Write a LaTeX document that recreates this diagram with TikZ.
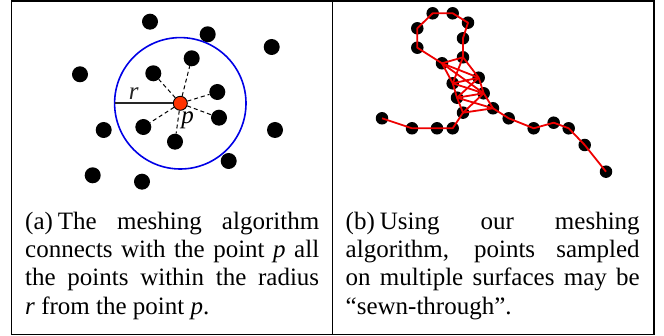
\documentclass[tikz,border=0pt]{standalone}
\usepackage{fontspec}
\setmainfont{Liberation Serif}
\usetikzlibrary{positioning}
\definecolor{pointred}{RGB}{255,51,0}
\definecolor{meshred}{RGB}{238,0,0}
\definecolor{ringblue}{RGB}{0,0,230}

\begin{document}
\begin{tikzpicture}[x=1pt,y=-1pt,
  dot/.style={circle,fill=black,inner sep=0pt,minimum size=16pt},
  sdot/.style={circle,fill=black,inner sep=0pt,minimum size=12.5pt},
  ctr/.style={circle,draw=black,fill=pointred,line width=0.9pt,inner sep=0pt,minimum size=14pt},
  ring/.style={draw=ringblue,line width=1.6pt},
  spoke/.style={dashed,dash pattern=on 4pt off 3pt,line width=1pt},
  radline/.style={line width=1.6pt,black!85},
  mesh/.style={draw=meshred,line width=1.8pt,line join=round},
  lab/.style={font=\fontsize{25}{25}\selectfont\itshape,inner sep=0pt},
  captext/.style={font=\fontsize{25}{28.3}\selectfont,text width=294pt,align=justify,inner sep=0pt},
  frame/.style={line width=1.4pt}
]
\useasboundingbox (0,0) rectangle (664,336);

% frame
\draw[frame] (11.5,1) rectangle (654,334.5);
\draw[frame] (332.5,1) -- (332.5,334.5);

% (a) points round p
\node[dot] (a1) at (150,21.7) {};
\node[dot] (a2) at (207.7,34.3) {};
\node[dot] (a3) at (271.7,47) {};
\node[dot] (a4) at (80,74.3) {};
\node[dot] (a5) at (191.7,58.3) {};
\node[dot] (a6) at (153.3,73.3) {};
\node[dot] (a7) at (217.3,92) {};
\node[dot] (a8) at (219,117.7) {};
\node[dot] (a9) at (143.3,127) {};
\node[dot] (a10) at (175,141.7) {};
\node[dot] (a11) at (103.7,130) {};
\node[dot] (a12) at (275,130) {};
\node[dot] (a13) at (228.7,161) {};
\node[dot] (a14) at (92.7,175.3) {};
\node[dot] (a15) at (142,181.7) {};

\node[ctr] (p) at (180.3,103.3) {};
\draw[ring] (p.center) circle[radius=65.7pt];
\coordinate (rim) at (114.6,103.3);
\draw[radline] (rim) -- node[lab,pos=0.33,above=3pt] {r} (p);
\foreach \n in {a5,a6,a7,a8,a9,a10}
  \draw[spoke] (p) -- (\n);
\node[lab] (plab) at (187.5,120) {p};

% (b) sampled points
\node[sdot] (b1) at (432.7,13.3) {};
\node[sdot] (b2) at (452.7,13.3) {};
\node[sdot] (b3) at (468,22.7) {};
\node[sdot] (b4) at (417.3,28.3) {};
\node[sdot] (b5) at (463,38.3) {};
\node[sdot] (b6) at (417.3,47.7) {};
\node[sdot] (b7) at (463,57.3) {};
\node[sdot] (b8) at (442,63.3) {};
\node[sdot] (b9) at (478.7,77.7) {};
\node[sdot] (b10) at (452.7,83.3) {};
\node[sdot] (b11) at (483.7,93.3) {};
\node[sdot] (b12) at (457,97.7) {};
\node[sdot] (b13) at (493,108.3) {};
\node[sdot] (b14) at (463,112.7) {};
\node[sdot] (b15) at (382,118.3) {};
\node[sdot] (b16) at (508.7,118.3) {};
\node[sdot] (b17) at (412,128.3) {};
\node[sdot] (b18) at (437,128.3) {};
\node[sdot] (b19) at (452.7,128.3) {};
\node[sdot] (b20) at (533.7,128.3) {};
\node[sdot] (b21) at (553.7,122.7) {};
\node[sdot] (b22) at (568.7,128.3) {};
\node[sdot] (b23) at (584.7,145) {};
\node[sdot] (b24) at (606,171.7) {};

% mesh
\draw[mesh] (b8.center) -- (b6.center) -- (b4.center) -- (b1.center) -- (b2.center)
  -- (b3.center) -- (b5.center) -- (b7.center) -- (b9.center) -- (b11.center) -- (b13.center);
\draw[mesh] (b15.center) -- (b17.center) -- (b19.center) -- (b14.center) -- (b12.center)
  -- (b10.center) -- (b8.center) -- (b7.center);
\draw[mesh] (b13.center) -- (b16.center) -- (b20.center) -- (b21.center) -- (b22.center)
  -- (b23.center) -- (b24.center);
\foreach \s/\t in {b8/b9,b8/b11,b7/b10,b10/b9,b10/b11,b12/b9,b12/b11,b12/b13,b14/b11,b14/b13}
  \draw[mesh] (\s.center) -- (\t.center);

% captions
\node[captext,anchor=base west] (capa) at (25,229.3)
  {(a)\hspace{0.2em}The meshing algorithm\linebreak connects with the point \textit{p} all\linebreak
   the points within the radius\linebreak \textit{r} from the point \textit{p}.};
\node[captext,anchor=base west] (capb) at (345.5,229.3)
  {(b)\hspace{0.2em}Using our meshing\linebreak algorithm, points sampled\linebreak
   on multiple surfaces may be\linebreak “sewn-through”.};
\end{tikzpicture}
\end{document}
